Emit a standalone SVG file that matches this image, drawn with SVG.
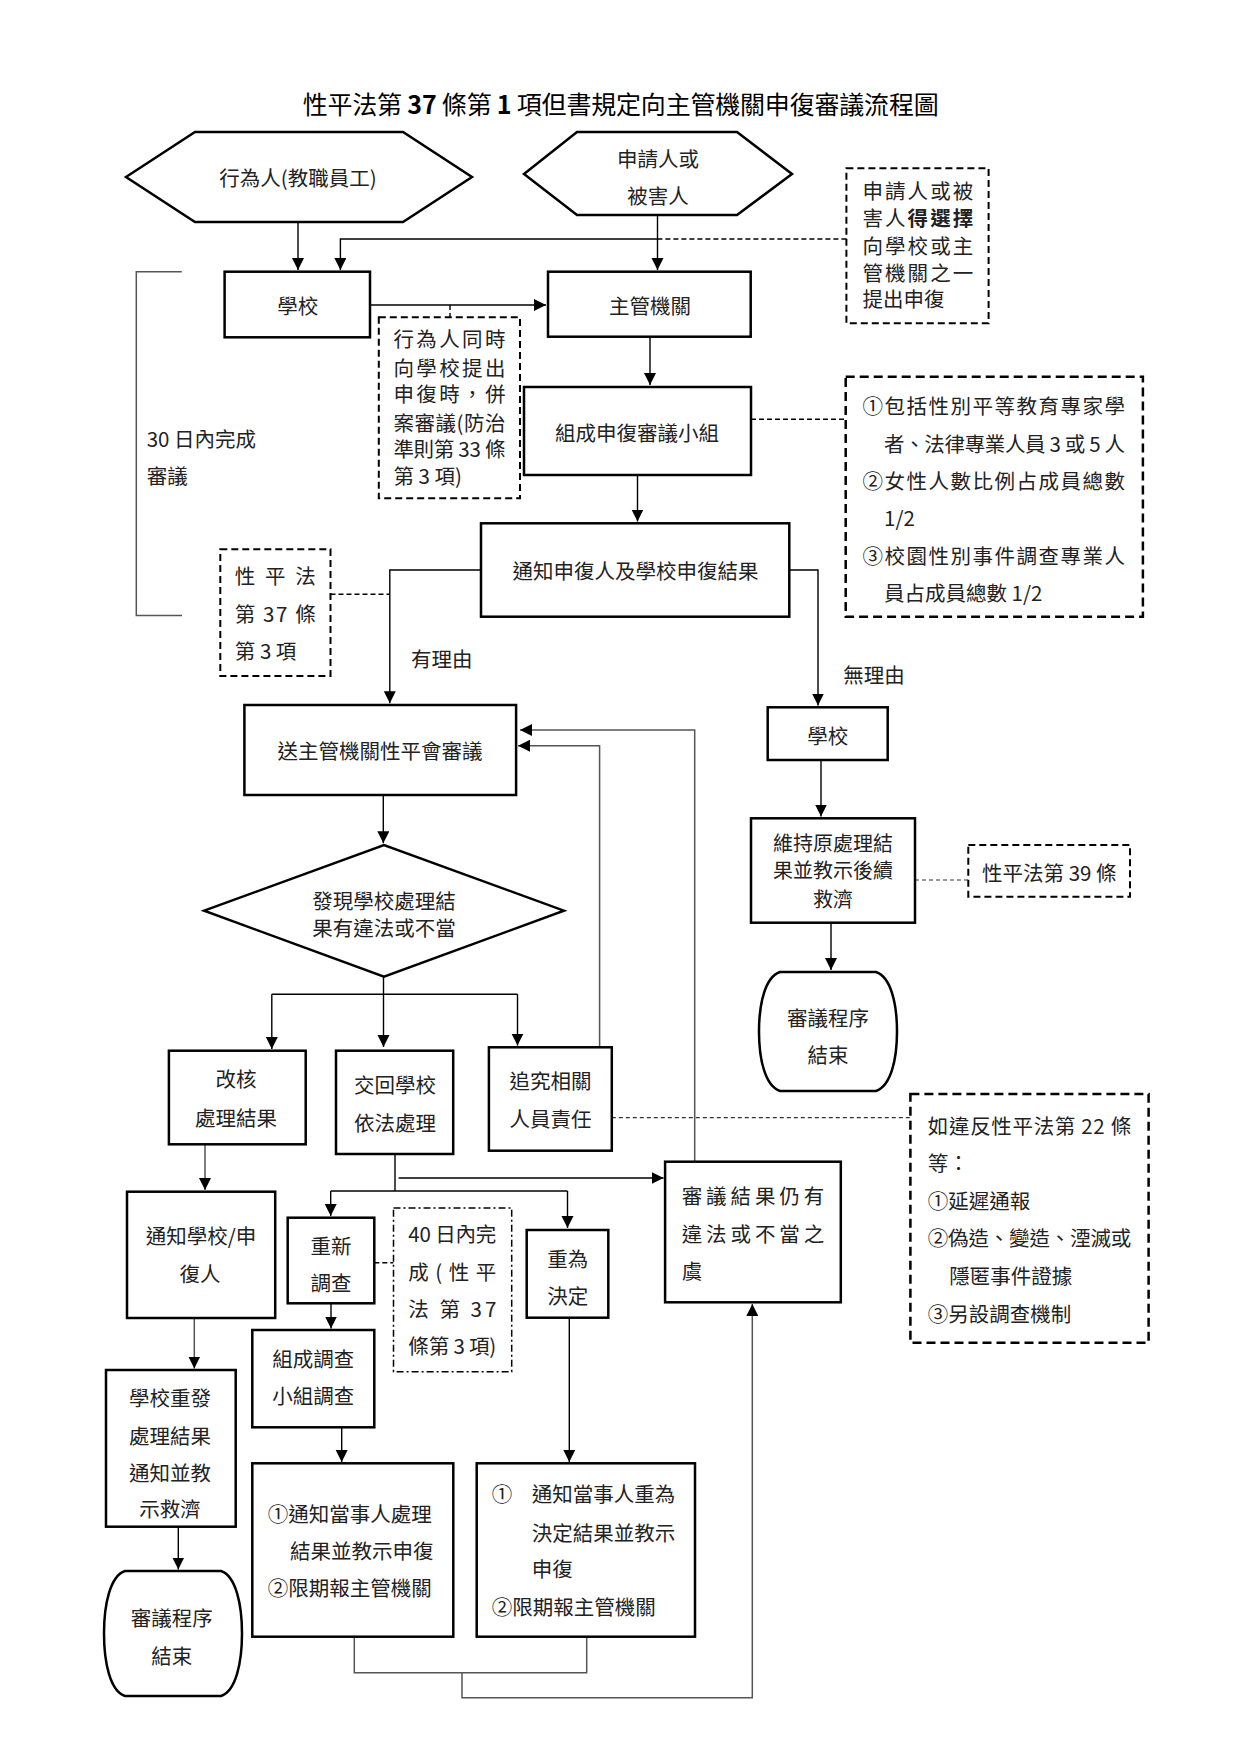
<svg xmlns="http://www.w3.org/2000/svg" width="1241" height="1755" viewBox="0 0 1241 1755">
<style>
.bg{fill:#fff}
.box{fill:#fff;stroke:#000;stroke-width:2.5}
.hex{fill:#fff;stroke:#000;stroke-width:2.5}
.dbox{fill:none;stroke:#000;stroke-width:2;stroke-dasharray:7 4}
.dboxt{fill:none;stroke:#000;stroke-width:2.5;stroke-dasharray:9 5}
.ddbox{fill:none;stroke:#000;stroke-width:1.5;stroke-dasharray:7 3 2 3}
.ln{fill:none;stroke:#000;stroke-width:1.4}
.gl{fill:none;stroke:#555;stroke-width:1.5}
.dl{fill:none;stroke:#000;stroke-width:1.4;stroke-dasharray:5 3}
.dlt{fill:none;stroke:#333;stroke-width:1.2;stroke-dasharray:4 3}
.t{font-family:"Noto Sans CJK TC","Noto Sans CJK SC","Liberation Sans",sans-serif;font-size:20.5px;fill:#222;dominant-baseline:central}
.c{text-anchor:middle}
.b{font-weight:bold}
.title{font-family:"Noto Sans CJK TC","Noto Sans CJK SC","Liberation Sans",sans-serif;font-size:25px;fill:#000;dominant-baseline:central}
</style>
<defs>
<marker id="arr" markerUnits="userSpaceOnUse" markerWidth="13" markerHeight="13" refX="12" refY="6" orient="auto">
<path d="M0,0 L12,6 L0,12 Z" fill="#000"/>
</marker>
</defs>
<rect class="bg" x="0" y="0" width="1241" height="1755"/>

<g id="title">
<text class="title" x="302.7" y="103" textLength="636" lengthAdjust="spacing">性平法第 <tspan class="b">37</tspan> 條第 <tspan class="b">1</tspan> 項但書規定向主管機關申復審議流程圖</text>
</g>

<g id="connectors">
<path class="ln" d="M298,222 V270" marker-end="url(#arr)"/>
<path class="ln" d="M657.5,215 V270" marker-end="url(#arr)"/>
<path class="dl" d="M846.4,239 H657.5"/>
<path class="ln" d="M657.5,239 H340.4 V270" marker-end="url(#arr)"/>
<path class="ln" d="M370,305 H546" marker-end="url(#arr)"/>
<path class="dl" d="M450,305 V317.3"/>
<path class="ln" d="M650,336.7 V385" marker-end="url(#arr)"/>
<path class="dl" d="M751,419.3 H846"/>
<path class="ln" d="M637.5,475 V521.5" marker-end="url(#arr)"/>
<path class="ln" d="M789.3,570 H818 V705.5" marker-end="url(#arr)"/>
<path class="ln" d="M481,570 H389.8 V703.3" marker-end="url(#arr)"/>
<path class="dl" d="M330.5,594.3 H389.8"/>
<path class="gl" d="M181.8,271.7 H136.3 V615.5 H182"/>
<path class="ln" d="M821,760 V816.5" marker-end="url(#arr)"/>
<path class="ln" d="M831,922.7 V970" marker-end="url(#arr)"/>
<path class="dlt" d="M915,880 H968.3"/>
<path class="ln" d="M383.3,795 V843.3" marker-end="url(#arr)"/>
<path class="ln" d="M383.5,976.7 V1047" marker-end="url(#arr)"/>
<path class="ln" d="M271.8,994.3 H517.5"/>
<path class="ln" d="M271.8,994.3 V1049" marker-end="url(#arr)"/>
<path class="ln" d="M517.5,994.3 V1045.6" marker-end="url(#arr)"/>
<path class="gl" d="M599.6,1047.3 V745.7 H518" marker-end="url(#arr)"/>
<path class="gl" d="M694.7,1161.7 V730 H520" marker-end="url(#arr)"/>
<path class="dlt" d="M611.8,1117.7 H910.4"/>
<path class="gl" d="M205,1144.3 V1190" marker-end="url(#arr)"/>
<path class="ln" d="M395,1154 V1191"/>
<path class="ln" d="M330.7,1191 H567.5"/>
<path class="ln" d="M330.7,1191 V1216" marker-end="url(#arr)"/>
<path class="ln" d="M567.5,1191 V1228" marker-end="url(#arr)"/>
<path class="ln" d="M398.6,1178 H663.5" marker-end="url(#arr)"/>
<path class="dl" d="M374.3,1262.7 H393.3"/>
<path class="ln" d="M331,1303.3 V1328.5" marker-end="url(#arr)"/>
<path class="ln" d="M341.7,1427.3 V1462" marker-end="url(#arr)"/>
<path class="ln" d="M569.3,1317.7 V1462" marker-end="url(#arr)"/>
<path class="gl" d="M354.3,1636.7 V1672.7 H586.7 V1636.7"/>
<path class="gl" d="M462,1672.7 V1697.7 H752.3 V1304" marker-end="url(#arr)"/>
<path class="gl" d="M194.3,1317.7 V1368.5" marker-end="url(#arr)"/>
<path class="ln" d="M178.3,1526.7 V1569.5" marker-end="url(#arr)"/>
</g>

<g id="actor">
<polygon class="hex" points="126,177 195,132 403,132 472,177 403,222 195,222"/>
<text class="t c" x="298" y="177">行為人(教職員工)</text>
</g>

<g id="applicant">
<polygon class="hex" points="524,174 577,132 737,132 792,174 737,215 577,215"/>
<text class="t c" x="658" y="158">申請人或</text>
<text class="t c" x="658" y="195">被害人</text>
</g>

<g id="note-choice">
<rect class="dbox" x="846.4" y="168.3" width="142.2" height="155"/>
<text class="t" x="862.5" y="190" textLength="110.7" lengthAdjust="spacing">申請人或被</text>
<text class="t" x="862.5" y="216.7" textLength="110.7" lengthAdjust="spacing">害人<tspan class="b">得選擇</tspan></text>
<text class="t" x="862.5" y="245" textLength="110.7" lengthAdjust="spacing">向學校或主</text>
<text class="t" x="862.5" y="271.7" textLength="110.7" lengthAdjust="spacing">管機關之一</text>
<text class="t" x="862.5" y="298.3">提出申復</text>
</g>

<g id="school-top">
<rect class="box" x="224.6" y="271.7" width="145.4" height="65.6"/>
<text class="t c" x="297.7" y="305">學校</text>
</g>

<g id="authority">
<rect class="box" x="548" y="271.7" width="202.7" height="65"/>
<text class="t c" x="650" y="305">主管機關</text>
</g>

<g id="note-merge">
<rect class="dbox" x="378.8" y="317.3" width="141.2" height="181"/>
<text class="t" x="393.4" y="338.3" textLength="112" lengthAdjust="spacing">行為人同時</text>
<text class="t" x="393.4" y="366.7" textLength="112" lengthAdjust="spacing">向學校提出</text>
<text class="t" x="393.4" y="393.3" textLength="112" lengthAdjust="spacing">申復時，併</text>
<text class="t" x="393.4" y="421.7" textLength="112" lengthAdjust="spacing">案審議(防治</text>
<text class="t" x="393.4" y="448.3" textLength="112" lengthAdjust="spacing">準則第 33 條</text>
<text class="t" x="393.4" y="475">第 3 項)</text>
</g>

<g id="deadline-30">
<text class="t" x="146.7" y="438.3">30 日內完成</text>
<text class="t" x="146.7" y="475">審議</text>
</g>

<g id="committee">
<rect class="box" x="524" y="387" width="227" height="88"/>
<text class="t c" x="637" y="431.7">組成申復審議小組</text>
</g>

<g id="note-committee">
<rect class="dboxt" x="845.7" y="376.7" width="297.2" height="240"/>
<text class="t" x="862.5" y="405" textLength="262.5" lengthAdjust="spacing">①包括性別平等教育專家學</text>
<text class="t" x="884" y="443.3" textLength="241" lengthAdjust="spacing">者、法律專業人員 3 或 5 人</text>
<text class="t" x="862.5" y="480" textLength="262.5" lengthAdjust="spacing">②女性人數比例占成員總數</text>
<text class="t" x="884" y="516.7">1/2</text>
<text class="t" x="862.5" y="555" textLength="262.5" lengthAdjust="spacing">③校園性別事件調查專業人</text>
<text class="t" x="884" y="591.7">員占成員總數 1/2</text>
</g>

<g id="notify-result">
<rect class="box" x="481" y="523.3" width="308.3" height="93.4"/>
<text class="t c" x="635.5" y="570">通知申復人及學校申復結果</text>
</g>

<g id="note-37-3">
<rect class="dbox" x="220.3" y="549.3" width="110.2" height="126.7"/>
<text class="t" x="234.8" y="575" textLength="81" lengthAdjust="spacing">性 平 法</text>
<text class="t" x="234.8" y="613.3" textLength="81" lengthAdjust="spacing">第 37 條</text>
<text class="t" x="234.8" y="650">第 3 項</text>
</g>

<g id="label-yes">
<text class="t" x="410.9" y="658.3">有理由</text>
</g>
<g id="label-no">
<text class="t" x="843.3" y="674">無理由</text>
</g>

<g id="send-committee">
<rect class="box" x="244.4" y="705" width="271.7" height="90"/>
<text class="t c" x="380" y="750">送主管機關性平會審議</text>
</g>

<g id="school-right">
<rect class="box" x="767.7" y="707.3" width="120" height="52.7"/>
<text class="t c" x="827.7" y="735">學校</text>
</g>

<g id="maintain">
<rect class="box" x="751" y="818.3" width="164" height="104.4"/>
<text class="t c" x="833" y="842" style="font-size:20px">維持原處理結</text>
<text class="t c" x="833" y="869.5" style="font-size:20px">果並教示後續</text>
<text class="t c" x="833" y="898" style="font-size:20px">救濟</text>
</g>

<g id="note-39">
<rect class="dbox" x="968.3" y="845" width="161.7" height="51.7"/>
<text class="t c" x="1049.3" y="871.7">性平法第 39 條</text>
</g>

<g id="end-right">
<path class="box" d="M780,972 H876 C891,977 897,1004 897,1031.5 C897,1059 891,1086 876,1091 H780 C765,1086 759,1059 759,1031.5 C759,1004 765,977 780,972 Z"/>
<text class="t c" x="828" y="1016.7">審議程序</text>
<text class="t c" x="828" y="1054">結束</text>
</g>

<g id="decision">
<polygon class="hex" points="204.2,910.7 384,845 563.9,910.7 384,976.7"/>
<text class="t c" x="384" y="900">發現學校處理結</text>
<text class="t c" x="384" y="926.7">果有違法或不當</text>
</g>

<g id="revise">
<rect class="box" x="168.9" y="1050.7" width="136.8" height="93.6"/>
<text class="t c" x="236" y="1078.3">改核</text>
<text class="t c" x="236" y="1116.7">處理結果</text>
</g>

<g id="return-school">
<rect class="box" x="336" y="1050.7" width="117.2" height="103.3"/>
<text class="t c" x="395" y="1084">交回學校</text>
<text class="t c" x="395" y="1122.3">依法處理</text>
</g>

<g id="accountability">
<rect class="box" x="488.9" y="1047.3" width="122.9" height="103.4"/>
<text class="t c" x="550.4" y="1080">追究相關</text>
<text class="t c" x="550.4" y="1118.3">人員責任</text>
</g>

<g id="note-22">
<rect class="dboxt" x="910.4" y="1094" width="238.2" height="248.7"/>
<text class="t" x="927.8" y="1125" textLength="203.4" lengthAdjust="spacing">如違反性平法第 22 條</text>
<text class="t" x="927.8" y="1161.7">等：</text>
<text class="t" x="927.8" y="1200">①延遲通報</text>
<text class="t" x="927.8" y="1236.7" textLength="203.4" lengthAdjust="spacing">②偽造、變造、湮滅或</text>
<text class="t" x="949.2" y="1275">隱匿事件證據</text>
<text class="t" x="927.8" y="1313.3">③另設調查機制</text>
</g>

<g id="still-illegal">
<rect class="box" x="665.1" y="1161.7" width="175.7" height="140.6"/>
<text class="t" x="681.7" y="1195" textLength="142.5" lengthAdjust="spacing">審議結果仍有</text>
<text class="t" x="681.7" y="1232.7" textLength="142.5" lengthAdjust="spacing">違法或不當之</text>
<text class="t" x="681.7" y="1270">虞</text>
</g>

<g id="notify-school">
<rect class="box" x="127" y="1191.7" width="148.2" height="126.3"/>
<text class="t c" x="201" y="1235">通知學校/申</text>
<text class="t c" x="200" y="1273.3">復人</text>
</g>

<g id="reinvestigate">
<rect class="box" x="287.7" y="1217.7" width="86.6" height="85.6"/>
<text class="t c" x="331" y="1245">重新</text>
<text class="t c" x="331" y="1281.7">調查</text>
</g>

<g id="note-40">
<rect class="ddbox" x="393.5" y="1208" width="118.2" height="163.7"/>
<text class="t" x="408.3" y="1233.3" textLength="88" lengthAdjust="spacing">40 日內完</text>
<text class="t" x="408.3" y="1270.7" textLength="88" lengthAdjust="spacing">成 ( 性 平</text>
<text class="t" x="408.3" y="1308.3" textLength="88" lengthAdjust="spacing">法 第  37</text>
<text class="t" x="408.3" y="1345" textLength="88" lengthAdjust="spacing">條第 3 項)</text>
</g>

<g id="redecide">
<rect class="box" x="526.7" y="1230" width="81.6" height="87.7"/>
<text class="t c" x="567.7" y="1258.3">重為</text>
<text class="t c" x="567.7" y="1295">決定</text>
</g>

<g id="form-team">
<rect class="box" x="252.3" y="1330" width="122" height="97.3"/>
<text class="t c" x="313.3" y="1358.3">組成調查</text>
<text class="t c" x="313.3" y="1395">小組調查</text>
</g>

<g id="school-reissue">
<rect class="box" x="106" y="1370" width="129.7" height="156.7"/>
<text class="t c" x="170" y="1396.7">學校重發</text>
<text class="t c" x="170" y="1435">處理結果</text>
<text class="t c" x="170" y="1471.7">通知並教</text>
<text class="t c" x="170" y="1508.3">示救濟</text>
</g>

<g id="notify-parties-investigation">
<rect class="box" x="252.3" y="1463.3" width="201" height="173.4"/>
<text class="t" x="267.7" y="1513.3">①通知當事人處理</text>
<text class="t" x="290" y="1550">結果並教示申復</text>
<text class="t" x="267.7" y="1587.3">②限期報主管機關</text>
</g>

<g id="notify-parties-redecision">
<rect class="box" x="476.7" y="1463.3" width="218.3" height="173.4"/>
<text class="t" x="491.7" y="1493.3">①</text>
<text class="t" x="531.7" y="1493.3">通知當事人重為</text>
<text class="t" x="531.7" y="1531.7">決定結果並教示</text>
<text class="t" x="531.7" y="1568.3">申復</text>
<text class="t" x="491.7" y="1606">②限期報主管機關</text>
</g>

<g id="end-left">
<path class="box" d="M125,1571 H221 C236,1576 242,1605 242,1633.5 C242,1662 236,1691 221,1696 H125 C110,1691 104,1662 104,1633.5 C104,1605 110,1576 125,1571 Z"/>
<text class="t c" x="171.7" y="1616.7">審議程序</text>
<text class="t c" x="171.7" y="1655">結束</text>
</g>
</svg>
